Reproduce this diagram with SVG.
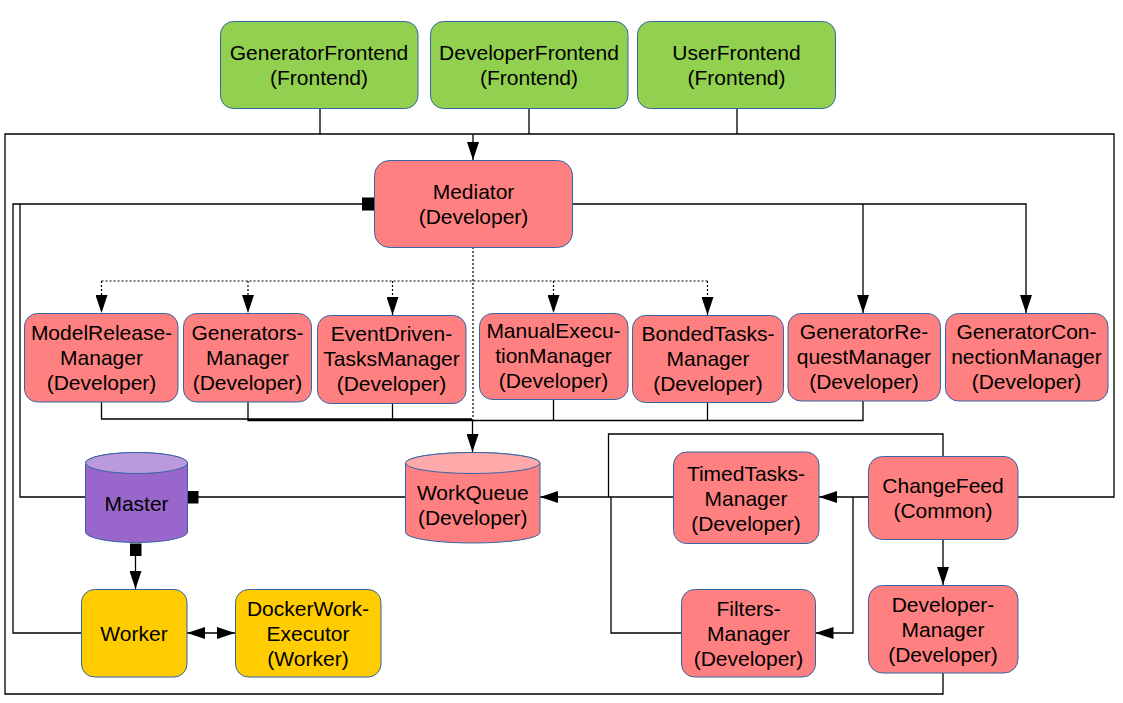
<svg xmlns="http://www.w3.org/2000/svg" width="1123" height="703" viewBox="0 0 1123 703">
<style>
.ln{fill:none;stroke:#000;stroke-width:1.3}
.dot{fill:none;stroke:#000;stroke-width:1.2;stroke-dasharray:2 2}
.nd{stroke:#3465a4;stroke-width:1}
.red{fill:#ff8080}
.grn{fill:#92d050}
.yel{fill:#ffcc00}
.pur{fill:#9966cc}
.purt{fill:#bb99dd}
.redt{fill:#ffaaaa}
.sq{fill:#000}
text{font-family:"Liberation Sans",Arial,sans-serif;font-size:21px;fill:#000;text-anchor:middle}
</style>
<defs>
<marker id="a" markerUnits="userSpaceOnUse" markerWidth="18" markerHeight="12" viewBox="0 0 18 12" refX="18" refY="6" orient="auto-start-reverse">
<path d="M0,0 L18,6 L0,12 z" fill="#000"/>
</marker>
</defs>
<rect width="1123" height="703" fill="#fff"/>
<g id="connectors">
<path class="ln" d="M320 108V134M529 108V134M737 108V134"/>
<path class="ln" d="M1018 497H1114V134H5V694H943V673"/>
<path class="ln" d="M473 134V160" marker-end="url(#a)"/>
<path class="ln" d="M362 204H13V633H81.5M20 204V497H85.5"/>
<rect class="sq" x="362" y="197.5" width="12" height="13"/>
<path class="ln" d="M572 204H1026V313" marker-end="url(#a)"/>
<path class="ln" d="M863 204V313" marker-end="url(#a)"/>
<path class="dot" d="M473 247V420M101.5 281H707.5"/>
<path class="dot" d="M101.5 281V313" marker-end="url(#a)"/>
<path class="dot" d="M248 281V313" marker-end="url(#a)"/>
<path class="dot" d="M392.5 281V315" marker-end="url(#a)"/>
<path class="dot" d="M553.5 281V313" marker-end="url(#a)"/>
<path class="dot" d="M707.5 281V315" marker-end="url(#a)"/>
<path class="ln" d="M101.5 402V419H472M248 402V420.5H472M392.5 403V419M553.5 399V420.5H472M707.5 402V420.5M863 401V420.5H553.5"/>
<path class="ln" d="M472.5 420V452" marker-end="url(#a)"/>
<path class="ln" d="M198 497H405.5"/>
<rect class="sq" x="187.5" y="491" width="11" height="12.5"/>
<rect class="sq" x="130" y="543.5" width="11.5" height="12.5"/>
<path class="ln" d="M135.5 556V589" marker-end="url(#a)"/>
<path class="ln" d="M187 633H235" marker-start="url(#a)" marker-end="url(#a)"/>
<path class="ln" d="M673.5 497H540" marker-end="url(#a)"/>
<path class="ln" d="M868 497H819" marker-end="url(#a)"/>
<path class="ln" d="M853 497V633H815.5" marker-end="url(#a)"/>
<path class="ln" d="M943 456V434H608.5V497M681.5 633H611V497"/>
<path class="ln" d="M943 539V585" marker-end="url(#a)"/>
</g>
<g id="GeneratorFrontend">
<rect class="nd grn" x="220.5" y="21.5" width="197.5" height="87" rx="13"/>
<text x="319" y="60">GeneratorFrontend</text><text x="319" y="85">(Frontend)</text>
</g>
<g id="DeveloperFrontend">
<rect class="nd grn" x="430.5" y="21.5" width="197.5" height="87" rx="13"/>
<text x="529" y="60">DeveloperFrontend</text><text x="529" y="85">(Frontend)</text>
</g>
<g id="UserFrontend">
<rect class="nd grn" x="637.5" y="21.5" width="198" height="87" rx="13"/>
<text x="736.5" y="60">UserFrontend</text><text x="736.5" y="85">(Frontend)</text>
</g>
<g id="Mediator">
<rect class="nd red" x="374.5" y="160.5" width="198" height="87" rx="15"/>
<text x="473.5" y="199">Mediator</text><text x="473.5" y="224">(Developer)</text>
</g>
<g id="ModelReleaseManager">
<rect class="nd red" x="24.5" y="313.5" width="153.5" height="88.5" rx="13"/>
<text x="101.5" y="340">ModelRelease-</text><text x="101.5" y="365">Manager</text><text x="101.5" y="390">(Developer)</text>
</g>
<g id="GeneratorsManager">
<rect class="nd red" x="183.5" y="313.5" width="128" height="88.5" rx="13"/>
<text x="247.5" y="340">Generators-</text><text x="247.5" y="365">Manager</text><text x="247.5" y="390">(Developer)</text>
</g>
<g id="EventDrivenTasksManager">
<rect class="nd red" x="317.5" y="315.5" width="148.5" height="88" rx="13"/>
<text x="391.5" y="341">EventDriven-</text><text x="391.5" y="366">TasksManager</text><text x="391.5" y="391">(Developer)</text>
</g>
<g id="ManualExecutionManager">
<rect class="nd red" x="479.5" y="313.5" width="148.5" height="86" rx="13"/>
<text x="553.5" y="338">ManualExecu-</text><text x="553.5" y="363">tionManager</text><text x="553.5" y="388">(Developer)</text>
</g>
<g id="BondedTasksManager">
<rect class="nd red" x="632.5" y="315.5" width="151" height="87" rx="13"/>
<text x="708" y="341">BondedTasks-</text><text x="708" y="366">Manager</text><text x="708" y="391">(Developer)</text>
</g>
<g id="GeneratorRequestManager">
<rect class="nd red" x="788" y="313.5" width="152.5" height="87.5" rx="13"/>
<text x="864" y="339">GeneratorRe-</text><text x="864" y="364">questManager</text><text x="864" y="389">(Developer)</text>
</g>
<g id="GeneratorConnectionManager">
<rect class="nd red" x="945.5" y="313.5" width="162.5" height="87.5" rx="13"/>
<text x="1026.5" y="339">GeneratorCon-</text><text x="1026.5" y="364">nectionManager</text><text x="1026.5" y="389">(Developer)</text>
</g>
<g id="Master">
<path class="nd pur" d="M85.5 463A51 10.5 0 0 1 187.5 463V532A51 10.5 0 0 1 85.5 532Z"/>
<ellipse class="nd purt" cx="136.5" cy="463" rx="51" ry="10.5"/>
<text x="136.5" y="511">Master</text>
</g>
<g id="WorkQueue">
<path class="nd red" d="M405.5 463A67.25 10.5 0 0 1 540 463V532.5A67.25 10.5 0 0 1 405.5 532.5Z"/>
<ellipse class="nd redt" cx="472.75" cy="463" rx="67.25" ry="10.5"/>
<text x="472.75" y="499.5">WorkQueue</text><text x="472.75" y="524.5">(Developer)</text>
</g>
<g id="TimedTasksManager">
<rect class="nd red" x="673.5" y="452" width="145.5" height="91.5" rx="13"/>
<text x="746" y="480.5">TimedTasks-</text><text x="746" y="505.5">Manager</text><text x="746" y="530.5">(Developer)</text>
</g>
<g id="ChangeFeed">
<rect class="nd red" x="868.5" y="456.5" width="149.5" height="83" rx="14"/>
<text x="943" y="493">ChangeFeed</text><text x="943" y="518">(Common)</text>
</g>
<g id="Worker">
<rect class="nd yel" x="81.5" y="589.5" width="105.5" height="87.5" rx="13"/>
<text x="134" y="640.5">Worker</text>
</g>
<g id="DockerWorkExecutor">
<rect class="nd yel" x="235.5" y="589.5" width="145.5" height="87.5" rx="13"/>
<text x="308" y="616">DockerWork-</text><text x="308" y="641">Executor</text><text x="308" y="666">(Worker)</text>
</g>
<g id="FiltersManager">
<rect class="nd red" x="681.5" y="589.5" width="134" height="87.5" rx="13"/>
<text x="748.5" y="616">Filters-</text><text x="748.5" y="641">Manager</text><text x="748.5" y="666">(Developer)</text>
</g>
<g id="DeveloperManager">
<rect class="nd red" x="868.5" y="585.5" width="149.5" height="87.5" rx="14"/>
<text x="943" y="612">Developer-</text><text x="943" y="637">Manager</text><text x="943" y="662">(Developer)</text>
</g>
</svg>
